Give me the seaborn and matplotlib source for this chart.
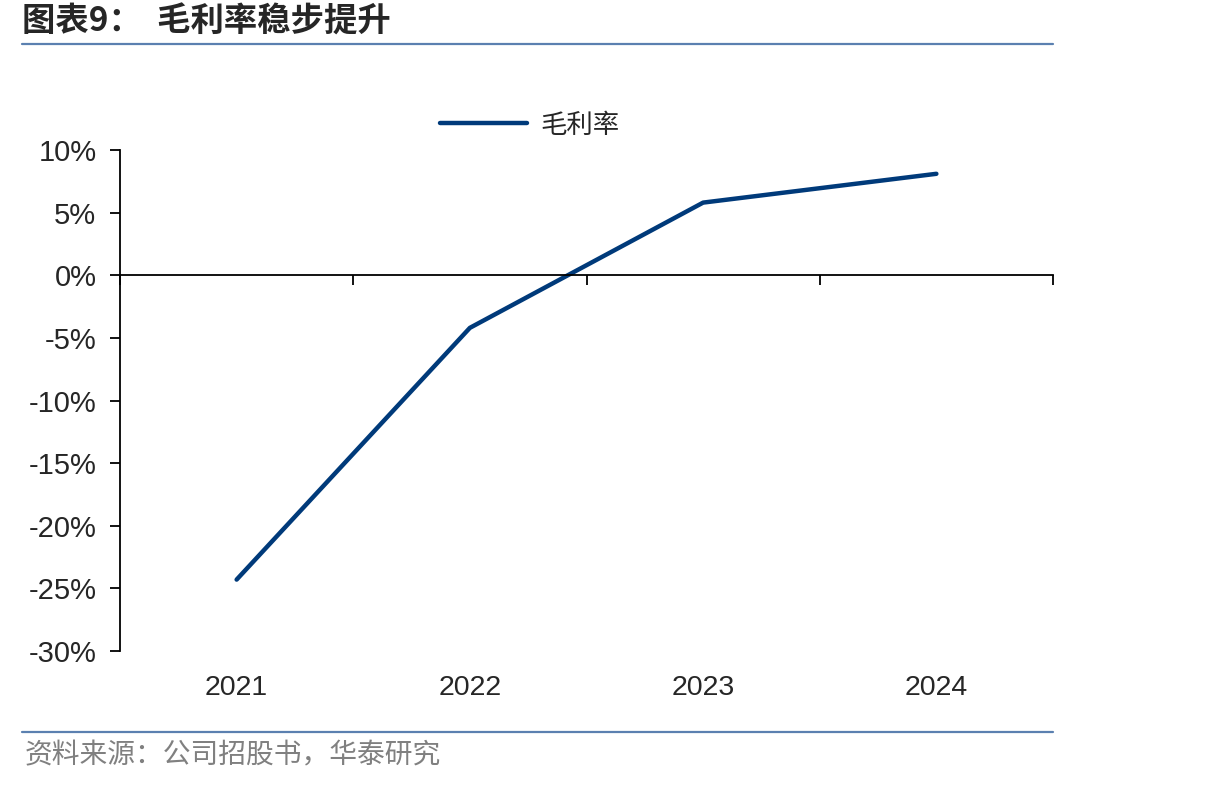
import numpy as np
import pandas as pd
import matplotlib
matplotlib.use("Agg")
import matplotlib.pyplot as plt
import matplotlib.ticker as mticker
from matplotlib.lines import Line2D
import seaborn as sns

# --- Data ---
years = ["2021", "2022", "2023", "2024"]
gross_margin = [-24.3, -4.2, 5.8, 8.1]  # %

title = "图表9：  毛利率稳步提升"
series_name = "毛利率"
source = "资料来源：公司招股书，华泰研究"

LINE_COLOR = "#003A7A"
RULE_COLOR = "#5B80B0"

sns.set_theme(style="white")
plt.rcParams["font.family"] = ["Liberation Sans", "Noto Sans CJK SC", "DejaVu Sans"]

df = pd.DataFrame({"year": years, "margin": gross_margin})

fig = plt.figure(figsize=(12.06, 7.86), dpi=100)
ax = fig.add_axes([120 / 1206, 1 - 651 / 786, (1053 - 120) / 1206, (651 - 150) / 786])

sns.lineplot(data=df, x="year", y="margin", ax=ax, color=LINE_COLOR,
             linewidth=3.2, solid_capstyle="round", legend=False)

ax.set_xlim(-0.5, len(years) - 0.5)
ax.set_ylim(-30, 10)
ax.yaxis.set_major_locator(mticker.MultipleLocator(5))
ax.yaxis.set_major_formatter(mticker.FuncFormatter(lambda v, p: f"{v:.0f}%"))
ax.tick_params(axis="y", direction="out", length=7, width=1.3, color="black",
               labelsize=21, pad=10, left=True)
ax.set_xlabel("")
ax.set_ylabel("")

# x axis line sits at zero, ticks at category boundaries
for s in ["top", "right"]:
    ax.spines[s].set_visible(False)
ax.spines["left"].set_color("black")
ax.spines["left"].set_linewidth(1.3)
ax.spines["bottom"].set_position(("data", 0))
ax.spines["bottom"].set_color("black")
ax.spines["bottom"].set_linewidth(1.3)
ax.set_xticks(np.arange(-0.5, len(years)))
ax.set_xticklabels([])
ax.tick_params(axis="x", direction="out", length=7, width=1.3, color="black", bottom=True)

# category labels at the bottom of the plot area
sec = ax.secondary_xaxis(0)
sec.set_xticks(range(len(years)))
sec.set_xticklabels(years)
sec.tick_params(length=0, labelsize=20.5, pad=17)
sec.spines["bottom"].set_visible(False)

# legend
handle = Line2D([], [], color=LINE_COLOR, linewidth=3.2, solid_capstyle="round")
fig.legend([handle], [series_name], loc="center", bbox_to_anchor=(530 / 1206, 1 - 125 / 786),
           frameon=False, prop={"family": ["Noto Sans CJK SC"], "size": 19},
           handlelength=3.3, handletextpad=0.5)

# title, rules, source
fig.text(22 / 1206, 1 - 22 / 786, title, fontsize=24, fontweight="bold",
         family=["Noto Sans CJK SC"], va="center", ha="left")
fig.add_artist(Line2D([22 / 1206, 1053 / 1206], [1 - 44 / 786] * 2, color=RULE_COLOR, lw=1.6))
fig.add_artist(Line2D([22 / 1206, 1053 / 1206], [1 - 732 / 786] * 2, color=RULE_COLOR, lw=1.6))
fig.text(25 / 1206, 1 - 755 / 786, source, fontsize=20, color="#808080",
         family=["Noto Sans CJK SC"], va="center", ha="left")

fig.savefig("out.png", dpi=100)
